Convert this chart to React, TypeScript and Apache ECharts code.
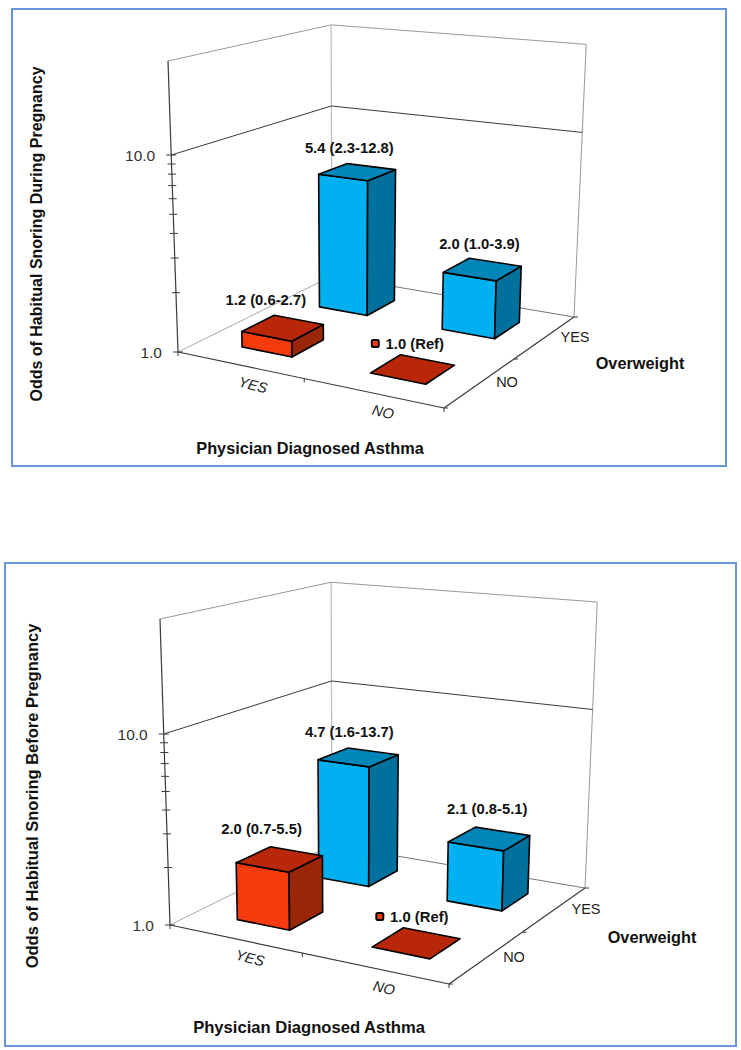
import React, { useEffect, useRef } from "react";
import * as echarts from "echarts";

// ---- data ----
const asthmaLevels = ["YES", "NO"];
const overweightLevels = ["NO", "YES"];
const asthmaIndex = [0, 1, 0, 1];
const overweightIndex = [1, 1, 0, 0];

const oddsDuring = [5.4, 2.0, 1.2, 1.0];
const labelsDuring = ["5.4 (2.3-12.8)", "2.0 (1.0-3.9)", "1.2 (0.6-2.7)", "1.0 (Ref)"];
const oddsBefore = [4.7, 2.1, 2.0, 1.0];
const labelsBefore = ["4.7 (1.6-13.7)", "2.1 (0.8-5.1)", "2.0 (0.7-5.5)", "1.0 (Ref)"];

const yTicks = [1, 2, 3, 4, 5, 6, 7, 8, 9, 10];
const yTickLabels = ["1.0", "10.0"];
const titleDuring = "Odds of Habitual Snoring During Pregnancy";
const titleBefore = "Odds of Habitual Snoring Before Pregnancy";
const titleAsthma = "Physician Diagnosed Asthma";
const titleOverweight = "Overweight";

// ---- layout of the two projected panels ----
const FONT = "'Liberation Sans', Arial, sans-serif";
const panels = [
  {
    box: [12, 9, 714, 457],
    A: [178, 352], B: [444, 408], C: [574, 317], D: [332, 276],
    s0: 197, sy: 352, k: 0.355, x0: 350, L: 5000,
    yMax: 30,
    odds: oddsDuring, labels: labelsDuring, title: titleDuring,
    labelOffset: [[-8, -24], [-3, -25], [-17, -28], [2, -25]],
    yTitle: [36, 234], xTitle: [310, 448], zTitle: [640, 363],
    yTitleSize: 16, xTitleSize: 16.3,
    asthmaPos: [[253, 385], [383, 412]],
    overweightPos: [[507, 382], [575, 337]],
  },
  {
    box: [5, 563, 731, 483],
    A: [170, 925], B: [449, 984], C: [585, 888], D: [332, 845],
    s0: 191, sy: 925, k: 0.3375, x0: 350, L: 5500,
    yMax: 40,
    odds: oddsBefore, labels: labelsBefore, title: titleBefore,
    labelOffset: [[-9, -25], [-2, -30], [-18, -30], [3, -26]],
    yTitle: [32, 796], xTitle: [309, 1027], zTitle: [652, 937],
    yTitleSize: 16.5, xTitleSize: 16.6,
    asthmaPos: [[250, 958], [384, 988]],
    overweightPos: [[514, 957], [586, 909]],
  },
];

const halfU = 0.1;
const halfV = 0.1;
const shiftU = 0.008;

const BLUE = { front: "#00B0F0", top: "#0086B8", side: "#00709C" };
const RED = { front: "#F53A0E", top: "#B82808", side: "#9A2608" };

function makeProjector(p: any) {
  const [ax, ay] = p.A, [bx, by] = p.B, [cx, cy] = p.C, [dx, dy] = p.D;
  const dx1 = bx - cx, dx2 = dx - cx, sx = ax - bx + cx - dx;
  const dy1 = by - cy, dy2 = dy - cy, sy = ay - by + cy - dy;
  const det = dx1 * dy2 - dx2 * dy1;
  const g = (sx * dy2 - dx2 * sy) / det;
  const h = (dx1 * sy - sx * dy1) / det;
  const a = bx - ax + g * bx, b = dx - ax + h * dx;
  const d = by - ay + g * by, e = dy - ay + h * dy;
  return (u: number, v: number, decades: number) => {
    const w = g * u + h * v + 1;
    const x = (a * u + b * v + ax) / w;
    const y = (d * u + e * v + ay) / w;
    const s = (p.s0 + p.k * (y - p.sy)) * decades;
    return [x + ((x - p.x0) / p.L) * s, y - s];
  };
}

function decadesOf(api: any, value: number) {
  const y1 = api.coord([0, 1])[1];
  const y10 = api.coord([0, 10])[1];
  return (y1 - api.coord([0, value])[1]) / (y1 - y10);
}

const line = (a: number[], b: number[], stroke: string, lineWidth = 1) => ({
  type: "line",
  shape: { x1: a[0], y1: a[1], x2: b[0], y2: b[1] },
  style: { stroke, lineWidth },
});

const text = (t: string, pos: number[], font: string, fill: string, extra: any = {}, rotation = 0) => ({
  type: "text",
  x: pos[0],
  y: pos[1],
  rotation,
  style: { text: t, font, fill, align: "center", verticalAlign: "middle", ...extra },
});

const poly = (points: number[][], fill: string) => ({
  type: "polygon",
  shape: { points },
  style: { fill, stroke: "#000", lineWidth: 1.6, lineJoin: "round" },
});

function frameRenderer(p: any) {
  const project = makeProjector(p);
  return (_params: any, api: any) => {
    const ten = decadesOf(api, 10);
    const top = decadesOf(api, p.yMax);
    const dark = "#3a3a3a";
    const children: any[] = [
      line(project(0, 0, 0), project(0, 1, 0), "#a8a8a8"),
      line(project(0, 1, 0), project(1, 1, 0), "#777"),
      line(project(0, 1, 0), project(0, 1, top), "#bdbdbd", 1.2),
      line(project(1, 1, 0), project(1, 1, top), "#999"),
      line(project(0, 1, top), project(0, 0, top), "#999"),
      line(project(0, 1, top), project(1, 1, top), "#999"),
      line(project(0, 1, ten), project(0, 0, ten), dark),
      line(project(0, 1, ten), project(1, 1, ten), dark),
      line(project(0, 0, 0), project(0, 0, top), dark, 1.2),
      line(project(0, 0, 0), project(1, 0, 0), dark, 1.2),
      line(project(1, 0, 0), project(1, 1, 0), dark, 1.2),
    ];
    yTicks.forEach((t) => {
      const q = project(0, 0, decadesOf(api, t));
      const major = t === 1 || t === 10;
      children.push(line([q[0] - (major ? 5 : 4), q[1]], [q[0] + (major ? 5 : 4), q[1]], dark));
    });
    yTickLabels.forEach((t) => {
      const q = project(0, 0, decadesOf(api, Number(t)));
      children.push(text(t, [q[0] - 16, q[1]], `15.5px ${FONT}`, "#333", { align: "right" }));
    });
    // category ticks
    [0, 0.5, 1].forEach((u) => {
      const q = project(u, 0, 0);
      children.push(line(q, [q[0], q[1] + 4], dark));
    });
    [0, 0.5, 1].forEach((v) => {
      const q = project(1, v, 0);
      children.push(line(q, [q[0] + 4, q[1]], dark));
    });
    asthmaLevels.forEach((c, i) =>
      children.push(text(c, p.asthmaPos[i], `italic 14.5px ${FONT}`, "#222", {}, (-14 * Math.PI) / 180))
    );
    overweightLevels.forEach((c, i) =>
      children.push(text(c, p.overweightPos[i], `14.5px ${FONT}`, "#222"))
    );
    children.push(text(p.title, p.yTitle, `bold ${p.yTitleSize}px ${FONT}`, "#111", {}, Math.PI / 2));
    children.push(text(titleAsthma, p.xTitle, `bold ${p.xTitleSize}px ${FONT}`, "#111"));
    children.push(text(titleOverweight, p.zTitle, `bold 16.3px ${FONT}`, "#111"));
    return { type: "group", children };
  };
}

function barRenderer(p: any) {
  const project = makeProjector(p);
  return (params: any, api: any) => {
    const i = params.dataIndex;
    const uc = (asthmaIndex[i] + 0.5) / asthmaLevels.length + shiftU;
    const vc = (overweightIndex[i] + 0.5) / overweightLevels.length;
    const u0 = uc - halfU, u1 = uc + halfU, v0 = vc - halfV, v1 = vc + halfV;
    const h = decadesOf(api, api.value(2));
    const col = overweightIndex[i] === 1 ? BLUE : RED;
    const children: any[] = [];
    if (h > 0.0001) {
      children.push(
        poly([project(u0, v0, 0), project(u1, v0, 0), project(u1, v0, h), project(u0, v0, h)], col.front),
        poly([project(u1, v0, 0), project(u1, v1, 0), project(u1, v1, h), project(u1, v0, h)], col.side)
      );
    }
    children.push(poly([project(u0, v0, h), project(u1, v0, h), project(u1, v1, h), project(u0, v1, h)], col.top));
    const c = project(uc, vc, h);
    const o = p.labelOffset[i];
    const pos = [c[0] + o[0], c[1] + o[1]];
    children.push(text(p.labels[i], pos, `bold 14.8px ${FONT}`, "#111"));
    if (h <= 0.0001) {
      children.push({
        type: "rect",
        shape: { x: pos[0] - 43, y: pos[1] - 4, width: 7, height: 7, r: 1.5 },
        style: { fill: RED.front, stroke: "#000", lineWidth: 2 },
      });
    }
    return { type: "group", children };
  };
}

export default function App() {
  const ref = useRef<HTMLDivElement>(null);
  useEffect(() => {
    const chart = echarts.init(ref.current!, undefined, { renderer: "svg" });
    chart.setOption({
      animation: false,
      backgroundColor: "#fff",
      graphic: panels.map((p) => ({
        type: "rect",
        shape: { x: p.box[0], y: p.box[1], width: p.box[2], height: p.box[3] },
        style: { fill: "transparent", stroke: "#6a96d8", lineWidth: 2 },
        silent: true,
      })),
      grid: panels.map(() => ({ left: 100, top: 100, width: 100, height: 200, show: false })),
      xAxis: panels.map((_, i) => ({ type: "category", gridIndex: i, data: asthmaLevels, show: false })),
      yAxis: panels.map((p, i) => ({ type: "log", logBase: 10, gridIndex: i, min: 1, max: p.yMax, show: false })),
      series: panels.flatMap((p, i) => [
        {
          type: "custom",
          xAxisIndex: i,
          yAxisIndex: i,
          z: 1,
          silent: true,
          clip: false,
          data: [[0, 1]],
          renderItem: frameRenderer(p),
        },
        {
          type: "custom",
          xAxisIndex: i,
          yAxisIndex: i,
          z: 2,
          silent: true,
          clip: false,
          encode: { x: 0, y: 2 },
          data: p.odds.map((v, k) => [asthmaIndex[k], overweightIndex[k], v]),
          renderItem: barRenderer(p),
        },
      ]),
    });
    return () => chart.dispose();
  }, []);
  return <div ref={ref} style={{ position: "absolute", left: 0, top: 0, width: 741, height: 1050 }} />;
}
